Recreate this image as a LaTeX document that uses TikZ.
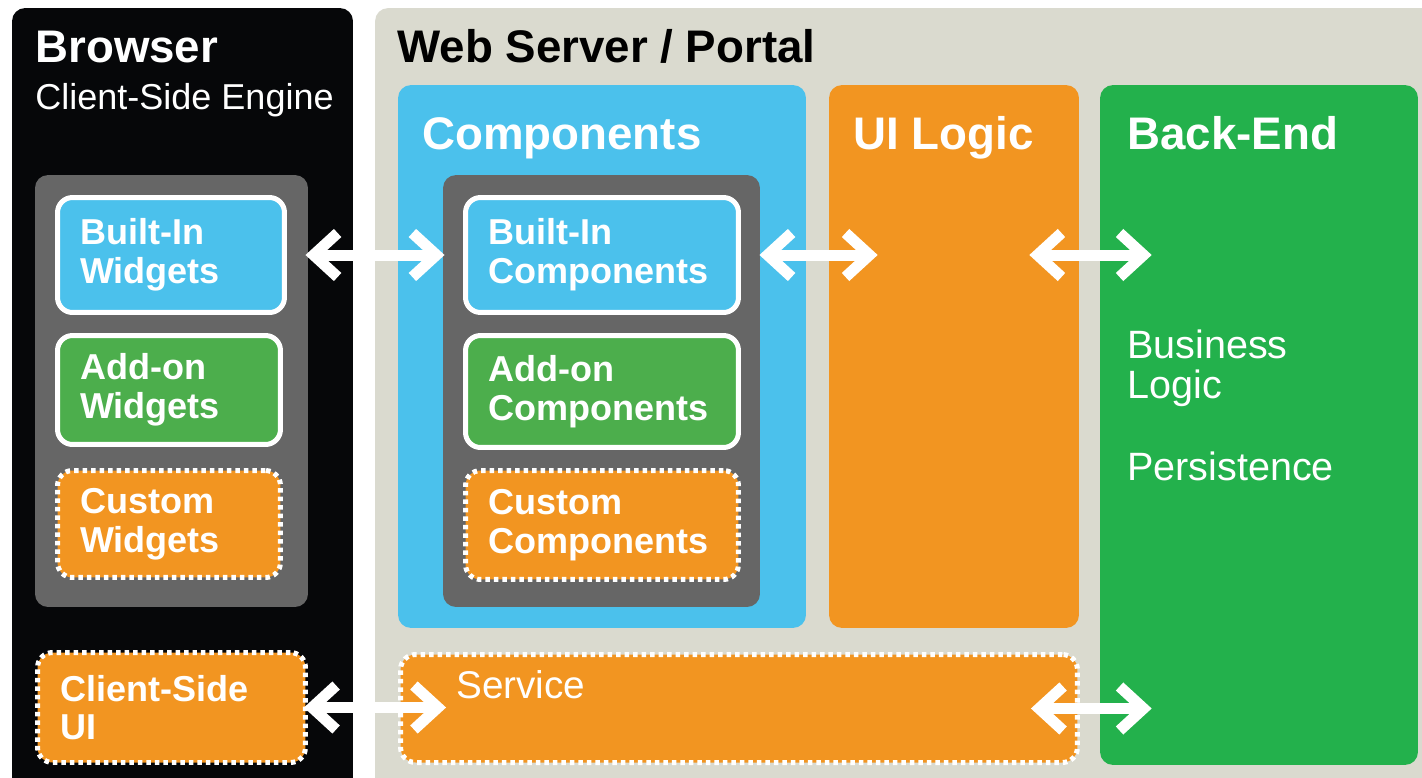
\documentclass[tikz,border=0pt]{standalone}
\usepackage{fontspec}
\setmainfont{Liberation Sans}
\usepackage{xcolor}
\usetikzlibrary{arrows.meta}

\definecolor{panelblack}{RGB}{6,7,9}
\definecolor{portalgray}{RGB}{218,218,207}
\definecolor{groupgray}{RGB}{102,102,102}
\definecolor{compblue}{RGB}{75,193,236}
\definecolor{addgreen}{RGB}{76,174,76}
\definecolor{backgreen}{RGB}{35,177,76}
\definecolor{logicorange}{RGB}{242,149,33}

\tikzset{
  panel/.style={rounded corners=0.26cm, inner sep=0pt},
  head/.style={anchor=base west, inner sep=0pt, font=\fontsize{26}{30}\selectfont\bfseries},
  plain/.style={anchor=base west, inner sep=0pt, align=left, text=white, font=\fontsize{22.5}{22.7}\selectfont},
  part/.style={draw=white, line width=0.1cm, rounded corners=0.3cm, text=white, align=left, inner xsep=0.45cm, inner ysep=0pt, font=\fontsize{20.5}{22}\selectfont\bfseries},
  custom/.style={part, fill=logicorange, line width=0.1cm, dash pattern=on 0.09cm off 0.08cm},
  both/.style={white, line width=0.22cm, >={Straight Barb[length=0.48cm,width=0.88cm]}, <->}
}

\begin{document}
\begin{tikzpicture}[x=0.02cm, y=-0.02cm]
\useasboundingbox (0,0) rectangle (1422,777);
\fill[white] (0,0) rectangle (1422,777);

\node (browser) at (182.5,404) [panel, fill=panelblack, minimum width=6.82cm, minimum height=15.84cm] {};
\node (server) at (912.5,404) [panel, fill=portalgray, minimum width=21.5cm, minimum height=15.84cm] {};
\node (wgroup) at (171.5,391) [panel, fill=groupgray, minimum width=5.46cm, minimum height=8.64cm] {};
\node (comps) at (602,356.5) [panel, fill=compblue, minimum width=8.16cm, minimum height=10.86cm] {};
\node (cgroup) at (601.5,391) [panel, fill=groupgray, minimum width=6.34cm, minimum height=8.64cm] {};
\node (ui) at (954,356.5) [panel, fill=logicorange, minimum width=5cm, minimum height=10.86cm] {};
\node (backend) at (1259,425) [panel, fill=backgreen, minimum width=6.36cm, minimum height=13.6cm] {};

\node (bw) at (171,255) [part, fill=compblue, minimum width=4.54cm, minimum height=2.3cm, text width=3.64cm] {Built-In\\Widgets};
\node (aw) at (169,390) [part, fill=addgreen, minimum width=4.46cm, minimum height=2.18cm, text width=3.56cm] {Add-on\\Widgets};
\node (cw) at (169,524) [custom, minimum width=4.46cm, minimum height=2.14cm, text width=3.56cm] {Custom\\Widgets};
\node (bc) at (602,255) [part, fill=compblue, minimum width=5.46cm, minimum height=2.3cm, text width=4.56cm] {Built-In\\Components};
\node (ac) at (602,391.5) [part, fill=addgreen, minimum width=5.46cm, minimum height=2.24cm, text width=4.56cm] {Add-on\\Components};
\node (cc) at (602,525) [custom, minimum width=5.46cm, minimum height=2.18cm, text width=4.56cm] {Custom\\Components};
\node (csui) at (171.5,707.5) [custom, minimum width=5.36cm, minimum height=2.2cm, text width=4.46cm] {Client-Side\\UI};
\node (service) at (739,708.5) [custom, minimum width=13.54cm, minimum height=2.16cm] {};

\node (browsertitle) at (35,63) [head, text=white] {Browser};
\node (engine) at (35,110) [plain, font=\fontsize{20.5}{24}\selectfont] {Client-Side Engine};
\node (portaltitle) at (397,63) [head] {Web Server / Portal};
\node (compstitle) at (422,149) [head, text=white] {Components};
\node (uititle) at (853,149) [head, text=white] {UI Logic};
\node (backtitle) at (1127,149) [head, text=white] {Back-End};
\node (business) at (1127,398) [plain] {Business\\Logic};
\node (persist) at (1127,480) [plain] {Persistence};
\node (servicetext) at (456,698) [plain, font=\fontsize{22}{24}\selectfont] {Service};

\draw[both, shorten <=0.37cm, shorten >=0.37cm] (bw.east) -- (bc.west);
\draw[both, shorten <=0.37cm, shorten >=-0.98cm] (bc.east) -- (bc.east -| ui.west);
\draw[both, shorten <=-1cm, shorten >=-1.04cm] (bc.east -| ui.east) -- (bc.east -| backend.west);
\draw[both, shorten <=-0.08cm, shorten >=-0.96cm] (csui.east) -- (csui.east -| service.west);
\draw[both, shorten <=-0.98cm, shorten >=-1.04cm] (service.east) -- (service.east -| backend.west);
\end{tikzpicture}
\end{document}
